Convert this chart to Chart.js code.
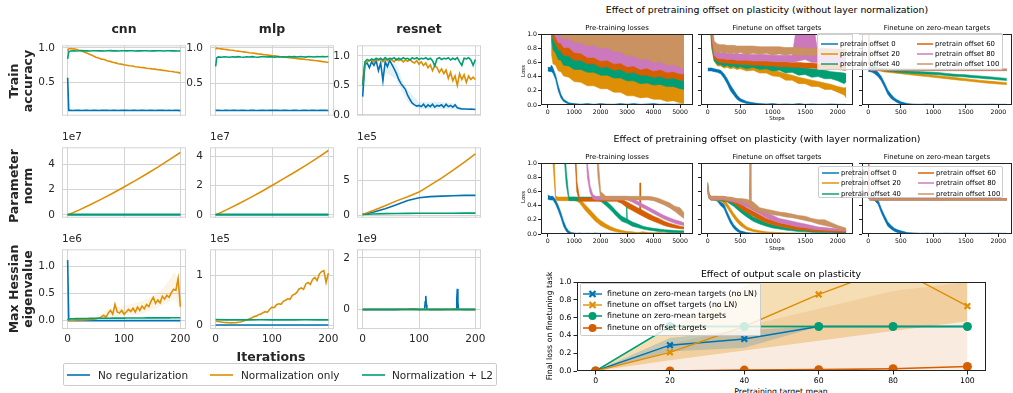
<!DOCTYPE html>
<html><head><meta charset="utf-8">
<script src="https://cdn.jsdelivr.net/npm/chart.js@4.4.1/dist/chart.umd.min.js"></script>
<style>
html,body{margin:0;padding:0;background:#fff}
body{position:relative;width:1013px;height:393px;overflow:hidden;font-family:"DejaVu Sans",sans-serif}
canvas{position:absolute}
.t{position:absolute;white-space:nowrap;transform:translate(-50%,-50%);line-height:1.15;text-align:center}
.lg{position:absolute;background:rgba(255,255,255,0.8);border:1px solid #ccc;border-radius:2px;box-sizing:border-box}
.lg .e{position:absolute;white-space:nowrap;line-height:1;transform:translateY(-50%)}
.lg svg{position:absolute}
</style></head><body>
<script>
const BLUE='#0173b2', ORANGE='#de8f05', GREEN='#029e73', RED='#d55e00', PINK='#cc78bc', TAN='#ca9161';

/* left grid: iterations */
const iters=[0,2,5,10,15,20,25,30,35,40,45,50,55,60,65,70,75,80,85,90,95,100,105,110,115,120,125,130,135,140,145,150,155,160,165,170,175,180,185,190,195,200];
const iters4=[0,4,8,12,16,20,24,28,32,36,40,44,48,52,56,60,64,68,72,76,80,84,88,92,96,100,104,108,112,116,120,124,128,132,136,140,144,148,152,156,160,164,168,172,176,180,184,188,192,196,200];
const iters20=[0,20,40,60,80,100,120,140,160,180,200];

const cnnAccBlue=[0.57,0.100,
 0.100,0.099,0.101,0.100,0.098,0.100,0.101,0.099,0.100,0.100,
 0.098,0.100,0.101,0.100,0.099,0.100,0.100,0.098,0.101,0.100,
 0.100,0.099,0.100,0.101,0.098,0.100,0.100,0.099,0.101,0.100,
 0.098,0.100,0.100,0.101,0.099,0.100,0.098,0.100,0.100,0.097];
const cnnAccOrange=[0.95,0.985,
 0.990,0.984,0.979,0.965,0.953,0.937,0.923,0.903,0.885,0.865,
 0.853,0.837,0.831,0.814,0.805,0.791,0.783,0.772,0.765,0.756,
 0.749,0.741,0.739,0.727,0.725,0.717,0.715,0.705,0.703,0.697,
 0.693,0.685,0.683,0.675,0.669,0.663,0.659,0.651,0.647,0.636];
const cnnAccGreen=[0.84,0.94,
 0.955,0.958,0.955,0.957,0.960,0.956,0.958,0.955,0.957,0.958,
 0.956,0.958,0.955,0.957,0.959,0.956,0.958,0.955,0.957,0.958,
 0.956,0.958,0.957,0.955,0.958,0.956,0.958,0.957,0.955,0.958,
 0.956,0.957,0.958,0.955,0.957,0.958,0.956,0.957,0.955,0.954];
const mlpAccBlue=[0.12,0.12,
 0.121,0.119,0.120,0.122,0.119,0.120,0.121,0.118,0.120,0.121,
 0.119,0.120,0.122,0.120,0.119,0.121,0.120,0.118,0.121,0.120,
 0.120,0.122,0.119,0.120,0.121,0.119,0.120,0.122,0.120,0.119,
 0.121,0.120,0.118,0.121,0.120,0.119,0.122,0.120,0.121,0.119];
const mlpAccOrange=[0.98,0.995,
 0.990,0.985,0.980,0.974,0.968,0.965,0.958,0.953,0.947,0.942,
 0.937,0.931,0.926,0.921,0.915,0.911,0.905,0.900,0.895,0.890,
 0.886,0.880,0.875,0.871,0.866,0.862,0.857,0.853,0.848,0.844,
 0.840,0.835,0.831,0.826,0.822,0.817,0.812,0.806,0.800,0.792];
const mlpAccGreen=[0.74,0.86,
 0.872,0.868,0.874,0.870,0.866,0.873,0.869,0.875,0.871,0.868,
 0.874,0.870,0.876,0.871,0.867,0.873,0.878,0.870,0.875,0.872,
 0.868,0.876,0.871,0.874,0.869,0.877,0.872,0.875,0.870,0.876,
 0.873,0.869,0.877,0.874,0.871,0.876,0.873,0.878,0.874,0.877];
const resAccBlue=[0.31,0.85,0.88,0.80,0.90,0.84,0.92,0.75,0.88,0.58,
 0.90,0.82,0.93,0.85,0.78,0.70,0.60,0.53,0.48,0.43,
 0.33,0.26,0.20,0.17,0.15,0.16,0.14,0.18,0.13,0.17,
 0.14,0.18,0.13,0.16,0.15,0.17,0.13,0.18,0.14,0.16,
 0.13,0.17,0.12,0.11,0.10,0.10,0.10,0.095,0.10,0.095,
 0.09];
const resAccOrange=[0.52,0.88,0.90,0.92,0.93,0.90,0.94,0.92,0.95,0.90,
 0.94,0.92,0.95,0.93,0.90,0.95,0.92,0.94,0.90,0.93,
 0.91,0.94,0.90,0.88,0.92,0.86,0.90,0.84,0.88,0.80,
 0.85,0.75,0.84,0.80,0.72,0.78,0.70,0.76,0.62,0.72,
 0.58,0.66,0.50,0.70,0.60,0.68,0.55,0.66,0.60,0.64,
 0.60];
const resAccGreen=[0.50,0.90,0.94,0.92,0.95,0.93,0.96,0.94,0.96,0.93,
 0.97,0.94,0.96,0.95,0.97,0.93,0.96,0.94,0.97,0.95,
 0.96,0.93,0.97,0.95,0.97,0.94,0.96,0.95,0.97,0.94,
 0.96,0.92,0.83,0.95,0.97,0.94,0.96,0.95,0.97,0.93,
 0.96,0.94,0.97,0.90,0.84,0.96,0.95,0.97,0.93,0.84,
 0.94];
const resAccBandX=[40,60,70,80,100,120,140,160,170,180,200];
const resAccBandLo=[0.72,0.60,0.40,0.22,0.10,0.10,0.10,0.09,0.08,0.08,0.08];
const resAccBandHi=[0.96,0.85,0.60,0.42,0.22,0.22,0.22,0.20,0.13,0.12,0.11];

const cnnNormBlue=[0.01,0.01,0.01,0.01,0.01,0.01,0.01,0.01,0.01,0.01,0.01];
const cnnNormGreen=[0.03,0.03,0.03,0.03,0.03,0.03,0.03,0.03,0.03,0.03,0.03];
const cnnNormOrange=[0,0.38,0.80,1.25,1.72,2.21,2.72,3.24,3.79,4.36,4.95];
const mlpNormBlue=[0.01,0.01,0.01,0.01,0.01,0.01,0.01,0.01,0.01,0.01,0.01];
const mlpNormGreen=[0.03,0.03,0.03,0.03,0.03,0.03,0.03,0.03,0.03,0.03,0.03];
const mlpNormOrange=[0,0.36,0.74,1.14,1.56,2.00,2.45,2.90,3.37,3.86,4.38];
const resNormBlue=[0.1,0.47,0.94,1.50,2.10,2.50,2.65,2.73,2.79,2.83,2.84];
const resNormOrange=[0.1,0.70,1.35,2.05,2.65,3.30,4.30,5.30,6.40,7.55,8.74];
const resNormGreen=[0.1,0.18,0.23,0.25,0.27,0.28,0.28,0.29,0.29,0.30,0.30];

const cnnHessBlue=[1.12,0,
 0,0,0,0,0,0,0,0,0,0, 0,0,0,0,0,0,0,0,0,0,
 0,0,0,0,0,0,0,0,0,0, 0,0,0,0,0,0,0,0,0,0];
const cnnHessGreen=[0.01,0.03,
 0.035,0.036,0.037,0.038,0.040,0.040,0.041,0.042,0.043,0.043,
 0.044,0.045,0.045,0.046,0.046,0.047,0.047,0.048,0.048,0.048,
 0.049,0.049,0.049,0.050,0.050,0.050,0.050,0.051,0.051,0.051,
 0.051,0.052,0.052,0.052,0.052,0.052,0.053,0.053,0.053,0.053];
const cnnHessOrange=[0.01,0.01,0.012,0.01,0.015,0.012,0.018,0.015,0.02,0.018,
 0.025,0.022,0.03,0.04,0.05,0.07,0.10,0.06,0.14,0.19,
 0.12,0.30,0.16,0.14,0.19,0.12,0.16,0.21,0.17,0.23,
 0.16,0.25,0.19,0.27,0.22,0.30,0.26,0.36,0.43,0.32,
 0.38,0.33,0.45,0.40,0.47,0.43,0.52,0.58,0.56,0.78,
 0.26];
const cnnHessBandX=[50,70,90,110,130,150,170,190,200];
const cnnHessBandLo=[0.02,0.05,0.08,0.10,0.12,0.20,0.30,0.40,0.20];
const cnnHessBandHi=[0.06,0.20,0.25,0.30,0.35,0.45,0.60,0.90,0.60];
const mlpHessBlue=[0,0,0,0,0,0,0,0,0,0,0];
const mlpHessGreen=[0.11,0.105,0.104,0.105,0.106,0.105,0.104,0.105,0.106,0.105,0.105];
const mlpHessOrange=[0.075,0.07,0.065,0.058,0.052,0.048,0.045,0.043,0.045,0.048,
 0.055,0.063,0.075,0.09,0.105,0.125,0.14,0.17,0.18,0.21,
 0.22,0.25,0.27,0.26,0.32,0.36,0.35,0.41,0.43,0.42,
 0.48,0.50,0.53,0.52,0.60,0.62,0.66,0.73,0.75,0.72,
 0.83,0.86,0.82,0.92,0.96,0.90,1.03,1.08,1.10,0.86,
 1.05];
const resHessX=[0,20,40,60,80,90,100,110,111,112,113,114,120,140,160,166,167,168,169,170,180,200];
const resHessBlue=[0.01,0.01,0.015,0.01,0.02,0.03,0.01,0.02,0.3,0.53,0.2,0.02,0.01,0.01,0.02,0.03,0.4,0.8,0.3,0.02,0.01,0.01];
const resHessOrange=[0,0.01,0.005,0.01,0.02,0.01,0.01,0.015,0.01,0.01,0.01];
const resHessGreen=[0,0,0,0,0,0,0,0,0,0,0];

/* right: pretraining / finetuning losses (noise band low/high edges) */
const xsPre=[0,100,150,200,300,400,500,600,800,1000,1250,1500,1750,2000,2250,2500,2750,3000,3250,3500,3750,4000,4250,4500,4750,5000,5150];
const preBlueLo=[0.48,0.47,0.47,0.45,0.36,0.20,0.10,0.05,0.01, 0.003,0,0,0,0,0,0,0,0, 0,0,0,0,0,0,0,0,0];
const preBlueHi=[0.53,0.53,0.56,0.52,0.42,0.27,0.15,0.08,0.03, 0.02,0.012,0.02,0.01,0.02,0.012,0.01,0.02,0.012, 0.02,0.01,0.015,0.02,0.01,0.015,0.01,0.015,0.01];
const preOrangeLo=[5,5,0.70,0.58,0.56,0.48,0.47,0.41,0.39, 0.33,0.32,0.27,0.27,0.23,0.23,0.18,0.18,0.13, 0.13,0.10,0.11,0.08,0.08,0.05,0.06,0.03,0.02];
const preOrangeHi=[9,9,1.30,1.00,0.93,0.88,0.84,0.80,0.74, 0.68,0.64,0.61,0.58,0.55,0.52,0.49,0.47,0.44, 0.42,0.40,0.38,0.36,0.34,0.32,0.30,0.30,0.28];
const preGreenLo=[5,5,0.90,0.78,0.73,0.64,0.63,0.56,0.55, 0.50,0.50,0.46,0.46,0.42,0.42,0.38,0.38,0.34, 0.34,0.30,0.31,0.28,0.29,0.26,0.26,0.23,0.22];
const preGreenHi=[9,9,1.30,1.05,0.95,0.88,0.84,0.80,0.76, 0.72,0.70,0.68,0.66,0.63,0.61,0.59,0.57,0.55, 0.52,0.50,0.48,0.46,0.44,0.42,0.40,0.38,0.37];
const preRedLo=[5,5,1.10,0.93,0.86,0.78,0.76,0.70,0.69, 0.63,0.63,0.58,0.58,0.53,0.54,0.49,0.50,0.45, 0.46,0.42,0.42,0.39,0.40,0.37,0.38,0.35,0.35];
const preRedHi=[9,9,1.50,1.20,1.10,1.02,0.98,0.95,0.92, 0.90,0.87,0.85,0.82,0.80,0.78,0.75,0.73,0.71, 0.69,0.67,0.65,0.63,0.61,0.60,0.58,0.56,0.55];
const prePinkLo=[5,5,1.30,1.03,0.96,0.88,0.87,0.81,0.81, 0.74,0.73,0.67,0.67,0.62,0.63,0.58,0.59,0.54, 0.55,0.50,0.52,0.48,0.50,0.46,0.47,0.44,0.44];
const prePinkHi=[9,9,1.80,1.50,1.30,1.20,1.15,1.10,1.08, 1.05,1.02,1.00,0.98,0.96,0.94,0.92,0.90,0.88, 0.86,0.84,0.82,0.80,0.78,0.76,0.74,0.72,0.70];
const preTanLo=[5,5,1.40,1.08,1.03,0.97,0.97,0.93,0.94, 0.88,0.88,0.83,0.84,0.80,0.81,0.75,0.75,0.69, 0.69,0.64,0.65,0.60,0.61,0.56,0.57,0.53,0.52];
const preTanHi=[9,9,9,9,9,9,9,9,9, 9,9,9,9,9,9,9,9,9, 9,9,9,9,9,9,9,9,9];

const xsFt=[0,30,60,100,150,200,250,300,350,400,450,500,600,700,800,900,1000,1100,1200,1300,1400,1500,1600,1700,1800,1900,2000,2100,2130];
const ftBlueLo=[0.48,0.48,0.48,0.47,0.46,0.44,0.38,0.30,0.20,0.14, 0.08,0.05,0.02,0.01,0,0,0,0,0,0, 0,0,0,0,0,0,0,0,0];
const ftBlueHi=[0.52,0.52,0.52,0.51,0.50,0.49,0.44,0.37,0.28,0.21, 0.14,0.09,0.05,0.03,0.02,0.015,0.02,0.01,0.015,0.01, 0.02,0.01,0.015,0.01,0.01,0.015,0.01,0.01,0.01];
const ftOrangeLo=[5,1.30,0.80,0.62,0.55,0.55,0.52,0.53,0.51,0.52, 0.50,0.51,0.48,0.49,0.45,0.45,0.41,0.40,0.35,0.35, 0.30,0.30,0.26,0.26,0.22,0.22,0.18,0.14,0.10];
const ftOrangeHi=[9,1.60,0.95,0.70,0.63,0.61,0.60,0.60,0.59,0.59, 0.58,0.58,0.57,0.56,0.54,0.52,0.50,0.47,0.44,0.42, 0.39,0.37,0.35,0.33,0.31,0.29,0.26,0.24,0.25];
const ftGreenLo=[5,1.40,0.85,0.62,0.57,0.57,0.54,0.56,0.53,0.55, 0.52,0.54,0.51,0.53,0.50,0.51,0.48,0.49,0.45,0.46, 0.42,0.43,0.39,0.40,0.37,0.37,0.34,0.30,0.33];
const ftGreenHi=[9,1.70,1.00,0.72,0.66,0.64,0.63,0.63,0.62,0.62, 0.62,0.61,0.61,0.60,0.60,0.59,0.58,0.57,0.56,0.55, 0.54,0.52,0.51,0.50,0.49,0.47,0.46,0.45,0.44];
const ftRedLo=[5,1.50,0.90,0.66,0.61,0.60,0.59,0.59,0.58,0.58, 0.58,0.57,0.57,0.56,0.56,0.55,0.55,0.54,0.54,0.53, 0.53,0.52,0.52,0.51,0.51,0.50,0.50,0.49,0.49];
const ftRedHi=[9,1.80,1.05,0.74,0.68,0.67,0.66,0.66,0.65,0.65, 0.65,0.64,0.64,0.63,0.63,0.62,0.62,0.61,0.61,0.60, 0.60,0.59,0.59,0.58,0.58,0.57,0.57,0.56,0.56];
const ftPinkLo=[5,1.60,1.00,0.70,0.66,0.65,0.65,0.64,0.64,0.64, 0.63,0.63,0.63,0.62,0.62,0.62,0.61,0.61,0.61,0.60, 0.62,0.64,0.60,0.60,0.59,0.59,0.58,0.58,0.58];
const ftPinkHi=[9,2.00,1.15,0.80,0.75,0.74,0.74,0.73,0.73,0.73, 0.72,0.72,0.72,0.71,0.71,0.71,0.70,0.70,0.70,0.70, 1.30,1.30,1.30,0.70,0.69,0.69,0.68,0.68,0.68];
const ftTanLo=[5,1.70,1.05,0.76,0.73,0.75,0.72,0.74,0.72,0.74, 0.72,0.74,0.71,0.73,0.71,0.73,0.70,0.72,0.70,0.72, 0.69,0.71,0.69,0.71,0.69,0.70,0.68,0.69,0.69];
const ftTanHi=[9,2.20,1.25,0.90,0.86,0.85,0.85,0.84,0.84,0.84, 0.83,0.83,0.83,0.83,0.82,0.82,0.82,0.82,0.81,0.81, 0.81,0.80,0.80,0.80,0.80,0.79,0.79,0.79,0.79];

const zmBlueLo=[0.47,0.47,0.46,0.44,0.40,0.34,0.25,0.15,0.09,0.06, 0.03,0.015,0,0,0,0,0,0,0,0, 0,0,0,0,0,0,0,0,0];
const zmBlueHi=[0.53,0.53,0.52,0.50,0.46,0.40,0.31,0.21,0.15,0.10, 0.07,0.045,0.02,0.012,0.01,0.015,0.01,0.01,0.012,0.01, 0.01,0.012,0.01,0.01,0.01,0.012,0.01,0.01,0.01];
const zmOrangeLo=[0.585,0.545,0.525,0.505,0.485,0.475,0.465,0.46,0.455,0.45, 0.445,0.44,0.43,0.42,0.41,0.40,0.39,0.38,0.37,0.36, 0.35,0.34,0.33,0.32,0.31,0.303,0.295,0.288,0.285];
const zmOrangeHi=[0.615,0.575,0.555,0.535,0.515,0.505,0.495,0.49,0.485,0.48, 0.475,0.47,0.46,0.45,0.44,0.43,0.42,0.41,0.40,0.39, 0.38,0.37,0.36,0.35,0.34,0.333,0.325,0.318,0.315];
const zmGreenLo=[0.585,0.545,0.525,0.505,0.495,0.485,0.48,0.475,0.47,0.465, 0.46,0.455,0.45,0.445,0.44,0.435,0.43,0.425,0.415,0.405, 0.40,0.395,0.385,0.38,0.37,0.365,0.355,0.347,0.345];
const zmGreenHi=[0.615,0.575,0.555,0.535,0.525,0.515,0.51,0.505,0.50,0.495, 0.49,0.485,0.48,0.475,0.47,0.465,0.46,0.455,0.445,0.435, 0.43,0.425,0.415,0.41,0.40,0.395,0.385,0.377,0.375];
const zmFlatLo=[0.70,0.49,0.485,0.485,0.485,0.485,0.485,0.485,0.485,0.485, 0.485,0.485,0.485,0.485,0.485,0.485,0.485,0.485,0.485,0.485, 0.485,0.485,0.485,0.485,0.485,0.485,0.485,0.485,0.485];
const zmFlatHi=[1.20,0.52,0.505,0.505,0.505,0.505,0.505,0.505,0.505,0.505, 0.505,0.505,0.505,0.505,0.505,0.505,0.505,0.505,0.505,0.505, 0.505,0.505,0.505,0.505,0.505,0.505,0.505,0.505,0.505];

const xsPreLn=[0,100,200,300,400,500,600,700,800,900,1000,1100,1200,1300,1400,1500,1600,1700,1800,1900,2000,2200,2400,2600,2800,3000,3200,3400,3600,3800,4000,4200,4400,4600,4800,5000,5150];
const lnBlueLo=[0.49,0.48,0.48,0.42,0.33,0.23,0.11,0.04,0.005,0, 0,0,0,0,0,0,0,0,0,0, 0,0,0,0,0,0,0,0,0,0, 0,0,0,0,0,0,0];
const lnBlueHi=[0.55,0.53,0.53,0.48,0.40,0.30,0.18,0.09,0.04,0.02, 0.015,0.01,0.015,0.01,0.01,0.012,0.01,0.01,0.015,0.01, 0.01,0.012,0.01,0.01,0.01,0.012,0.01,0.01,0.01,0.01, 0.012,0.01,0.01,0.01,0.01,0.01,0.01];
const lnOrangeLo=[5,5,1.0,0.48,0.47,0.47,0.47,0.47,0.47,0.47, 0.47,0.46,0.44,0.39,0.34,0.30,0.26,0.22,0.18,0.15, 0.12,0.08,0.05,0.03,0.02,0.01,0.005,0,0,0, 0,0,0,0,0,0,0];
const lnOrangeHi=[9,9,1.5,0.53,0.52,0.52,0.52,0.52,0.52,0.52, 0.52,0.51,0.50,0.46,0.42,0.38,0.34,0.30,0.26,0.22, 0.19,0.14,0.10,0.07,0.05,0.035,0.03,0.02,0.03,0.02, 0.015,0.02,0.015,0.02,0.015,0.02,0.015];
const lnGreenLo=[5,5,5,5,5,5,1.2,0.70,0.47,0.47, 0.47,0.47,0.47,0.47,0.47,0.47,0.47,0.47,0.47,0.47, 0.46,0.40,0.33,0.25,0.18,0.15,0.11,0.09,0.07,0.055, 0.045,0.035,0.03,0.025,0.02,0.02,0.02];
const lnGreenHi=[9,9,9,9,9,9,1.6,0.90,0.52,0.52, 0.52,0.52,0.52,0.52,0.52,0.52,0.52,0.52,0.52,0.52, 0.52,0.47,0.40,0.32,0.25,0.21,0.17,0.14,0.11,0.09, 0.08,0.07,0.06,0.055,0.05,0.045,0.045];
const lnGreenSpikeX=[2960,2986,3010];
const lnGreenSpikeY=[0.19,0.38,0.18];
const lnRedLo=[5,5,5,5,5,5,5,5,5,5, 1.3,0.60,0.46,0.46,0.46,0.46,0.46,0.46,0.46,0.46, 0.46,0.46,0.46,0.46,0.43,0.37,0.33,0.29,0.25,0.21, 0.18,0.15,0.12,0.10,0.085,0.075,0.07];
const lnRedHi=[9,9,9,9,9,9,9,9,9,9, 1.8,0.75,0.51,0.51,0.51,0.51,0.51,0.51,0.51,0.51, 0.51,0.51,0.51,0.51,0.49,0.45,0.41,0.37,0.33,0.29, 0.25,0.22,0.18,0.15,0.13,0.11,0.10];
const lnRedSpikeX=[3470,3490,3510];
const lnRedSpikeY=[0.34,0.72,0.33];
const lnPinkLo=[5,5,5,5,5,5,5,5,5,5, 5,5,5,5,1.5,0.80,0.58,0.50,0.48,0.48, 0.48,0.48,0.48,0.48,0.48,0.48,0.45,0.41,0.37,0.33, 0.29,0.25,0.21,0.18,0.15,0.13,0.12];
const lnPinkHi=[9,9,9,9,9,9,9,9,9,9, 9,9,9,9,2,1.0,0.68,0.56,0.53,0.53, 0.53,0.53,0.53,0.53,0.53,0.53,0.50,0.46,0.42,0.38, 0.34,0.30,0.26,0.23,0.20,0.18,0.16];
const lnTanLo=[5,5,5,5,5,5,5,5,5,5, 5,5,5,5,5,5,5,5,1.5,0.80, 0.50,0.48,0.48,0.48,0.48,0.48,0.48,0.48,0.48,0.48, 0.47,0.44,0.41,0.37,0.32,0.26,0.22];
const lnTanHi=[9,9,9,9,9,9,9,9,9,9, 9,9,9,9,9,9,9,9,2,1.1, 0.60,0.53,0.53,0.53,0.53,0.53,0.53,0.53,0.53,0.53, 0.52,0.50,0.47,0.44,0.39,0.37,0.30];

const xsFtLn=[0,20,50,100,150,200,250,300,350,400,450,500,600,700,800,900,1000,1100,1200,1300,1400,1500,1600,1700,1800,1900,2000,2100,2130];
const lnFtBlueLo=[0.58,0.50,0.48,0.48,0.46,0.40,0.36,0.25,0.15,0.08, 0.04,0.015,0,0,0,0,0,0,0,0, 0,0,0,0,0,0,0,0,0];
const lnFtBlueHi=[0.64,0.54,0.52,0.52,0.50,0.45,0.42,0.31,0.21,0.13, 0.08,0.045,0.02,0.012,0.01,0.01,0.01,0.01,0.01,0.01, 0.01,0.01,0.01,0.01,0.01,0.01,0.01,0.01,0.01];
const lnFtOrangeLo=[0.60,0.50,0.48,0.48,0.47,0.46,0.43,0.37,0.30,0.23, 0.17,0.12,0.06,0.035,0.02,0.01,0.008,0.005,0,0, 0,0,0,0,0,0,0,0,0];
const lnFtOrangeHi=[0.66,0.54,0.52,0.52,0.51,0.50,0.48,0.43,0.36,0.29, 0.23,0.18,0.10,0.065,0.045,0.03,0.025,0.02,0.015,0.012, 0.012,0.01,0.01,0.01,0.01,0.01,0.01,0.01,0.01];
const lnFtGreenLo=[0.66,0.52,0.48,0.48,0.48,0.47,0.46,0.45,0.42,0.39, 0.35,0.31,0.24,0.18,0.14,0.11,0.085,0.07,0.055,0.045, 0.035,0.03,0.025,0.02,0.02,0.02,0.015,0.015,0.015];
const lnFtGreenHi=[0.73,0.57,0.52,0.52,0.52,0.51,0.50,0.49,0.47,0.45, 0.42,0.38,0.31,0.24,0.20,0.16,0.13,0.11,0.09,0.075, 0.065,0.055,0.05,0.045,0.04,0.04,0.035,0.035,0.035];
const lnFtRedLo=[0.64,0.52,0.48,0.48,0.48,0.48,0.47,0.46,0.45,0.43, 0.40,0.36,0.30,0.25,0.20,0.16,0.13,0.11,0.09,0.07, 0.06,0.05,0.04,0.035,0.03,0.03,0.025,0.025,0.025];
const lnFtRedHi=[0.70,0.56,0.53,0.53,0.53,0.52,0.52,0.51,0.50,0.49, 0.47,0.43,0.37,0.32,0.27,0.22,0.19,0.16,0.14,0.12, 0.10,0.09,0.08,0.07,0.06,0.055,0.05,0.045,0.045];
const lnFtPinkLo=[0.64,0.52,0.48,0.48,0.48,0.48,0.48,0.47,0.46,0.45, 0.44,0.42,0.38,0.33,0.28,0.23,0.19,0.16,0.14,0.12, 0.10,0.09,0.07,0.06,0.055,0.05,0.045,0.04,0.04];
const lnFtPinkHi=[0.70,0.56,0.53,0.53,0.53,0.53,0.53,0.52,0.51,0.50, 0.49,0.47,0.44,0.39,0.35,0.30,0.26,0.22,0.20,0.18, 0.16,0.14,0.12,0.10,0.09,0.08,0.07,0.065,0.065];
const lnFtTanLo=[0.66,0.50,0.49,0.49,0.49,0.49,0.49,0.48,0.48,0.47, 0.46,0.45,0.43,0.35,0.31,0.29,0.27,0.26,0.24,0.23, 0.21,0.19,0.17,0.14,0.12,0.10,0.07,0.05,0.05];
const lnFtTanHi=[0.72,0.55,0.53,0.53,0.53,0.53,0.53,0.52,0.52,0.51, 0.50,0.50,0.49,0.45,0.37,0.35,0.33,0.31,0.30,0.28, 0.26,0.25,0.22,0.20,0.20,0.16,0.12,0.09,0.08];
const lnFtTanSpikeX=[640,652,664];
const lnFtTanSpikeY=[0.44,1.10,0.43];

const lnZmBlueLo=[0.50,0.50,0.49,0.47,0.42,0.30,0.20,0.11,0.07,0.04, 0.02,0.01,0,0,0,0,0,0,0,0, 0,0,0,0,0,0,0,0,0];
const lnZmBlueHi=[0.56,0.55,0.54,0.53,0.48,0.36,0.26,0.17,0.12,0.08, 0.06,0.045,0.02,0.015,0.01,0.012,0.01,0.01,0.012,0.01, 0.01,0.012,0.01,0.01,0.01,0.012,0.01,0.01,0.01];
const lnZmFlatLo=[0.60,0.48,0.478,0.478,0.478,0.478,0.478,0.478,0.478,0.478, 0.478,0.478,0.478,0.478,0.478,0.478,0.478,0.478,0.478,0.478, 0.478,0.478,0.478,0.478,0.478,0.478,0.478,0.478,0.478];
const lnZmFlatHi=[1.20,0.51,0.495,0.495,0.495,0.495,0.495,0.495,0.495,0.495, 0.495,0.495,0.495,0.495,0.495,0.495,0.495,0.495,0.495,0.495, 0.495,0.495,0.495,0.495,0.495,0.495,0.495,0.495,0.495];

/* bottom: output scale */
const scaleX=[0,20,40,60,80,100];
const lossZeroNoLn=[0,0.29,0.36,0.50,0.50,0.50];
const lossOffNoLn=[0,0.21,0.50,0.86,1.17,0.73];
const lossZeroLn=[0,0.50,0.50,0.50,0.50,0.50];
const lossOffLn=[0,0.00,0.01,0.015,0.025,0.05];
const bandOffNoLnLo=[0,0.12,0.23,0.34,0.45,0.56];
const bandOffNoLnHi=[0,0.48,0.95,1.40,1.60,1.20];
const bandOffLnLo=[0,0,0,0,0,0];
const bandOffLnHi=[0,0.30,0.50,0.70,0.90,1.00];
const bandZeroNoLnLo=[0,0.22,0.26,0.50,0.50,0.50];
const bandZeroNoLnHi=[0,0.37,0.46,0.50,0.50,0.50];
const bandZeroLnLo=[0,0.49,0.49,0.49,0.49,0.49];
const bandZeroLnHi=[0,0.51,0.51,0.51,0.51,0.51];

/* helpers */
Chart.defaults.font.family='"DejaVu Sans", sans-serif';

const frame={id:'frame', afterDatasetsDraw(ch,args,o){
  if(!o.color) return;
  const a=ch.chartArea, c=ch.ctx;
  c.save(); c.strokeStyle=o.color; c.lineWidth=1;
  c.strokeRect(a.left+0.5,a.top+0.5,a.right-a.left-1,a.bottom-a.top-1);
  c.restore();
}};
Chart.register(frame);

const pts=(xs,ys)=>ys.map((y,i)=>({x:xs[i],y}));
function rgba(hex,a){const n=parseInt(hex.slice(1),16);return `rgba(${n>>16},${(n>>8)&255},${n&255},${a})`;}

function buildDs(items){
  const ds=[]; let ord=1000;
  items.forEach(it=>{
    if(it.lo){
      const bc=it.bw?it.c:'rgba(0,0,0,0)';
      ds.push({data:pts(it.x,it.hi),borderColor:bc,borderWidth:it.bw||1,backgroundColor:rgba(it.c,it.a),pointRadius:0,fill:'+1',order:ord});
      ds.push({data:pts(it.x,it.lo),borderColor:bc,borderWidth:it.bw||1,pointRadius:0,fill:false,order:ord-1});
    } else {
      ds.push(Object.assign({data:pts(it.x,it.y),borderColor:it.c,backgroundColor:it.c,borderWidth:it.w||1.6,pointRadius:0,fill:false,order:ord},it.extra||{}));
    }
    ord-=2;
  });
  return ds;
}

function axis(o){
  return {type:'linear',position:o.pos,min:o.min,max:o.max,
    afterBuildTicks:s=>{s.ticks=o.ticks.map(v=>({value:v}));},
    afterFit:s=>{if(o.pos==='left') s.width=o.size; else s.height=o.size;},
    grid:o.grid,border:{display:false},
    ticks:{display:o.show!==false,autoSkip:false,maxRotation:0,minRotation:0,padding:o.pad,color:o.col,font:{size:o.fs},
      callback:v=>o.fmt?o.fmt(v):String(v)}};
}

function mkChart(l,t,w,h,p,datasets,xo,yo,frameCol){
  const cv=document.createElement('canvas');
  cv.width=w+p[1]+p[3]; cv.height=h+p[0]+p[2];
  cv.style.left=(l-p[3])+'px'; cv.style.top=(t-p[0])+'px';
  document.body.appendChild(cv);
  new Chart(cv,{type:'line',data:{datasets},options:{
    responsive:false,animation:false,events:[],
    layout:{padding:{top:p[0],right:p[1],bottom:0,left:0},autoPadding:false},
    plugins:{legend:{display:false},tooltip:{enabled:false},frame:{color:frameCol},filler:{drawTime:'beforeDatasetDraw'}},
    scales:{x:axis(Object.assign({pos:'bottom',size:p[2]},xo)),y:axis(Object.assign({pos:'left',size:p[3]},yo))}
  }});
}

const fmt1=v=>v.toFixed(1);
const GRID={display:true,color:'#d4d4d4',lineWidth:1,drawTicks:false,drawOnChartArea:true};
const MPL={display:true,drawOnChartArea:false,drawTicks:true,tickLength:3,tickWidth:1,tickColor:'#222'};

function leftPanel(l,t,yr,yt,yf,showX,items){
  mkChart(l,t,124,85,[8,10,showX?22:4,34],buildDs(items),
    {min:-10,max:210,ticks:[0,100,200],show:showX,pad:4,col:'#262626',fs:10.5,grid:GRID},
    {min:yr[0],max:yr[1],ticks:yt,fmt:yf,pad:7,col:'#262626',fs:10.5,grid:GRID},'#d4d4d4');
}

/* items: [lo,hi,colour] noise band or {x,y,c} thin line */
function lossPanel(l,t,w,xr,xt,showY,xs,items){
  const its=items.map(b=>Array.isArray(b)?{x:xs,lo:b[0],hi:b[1],c:b[2],a:1,bw:0.6}:Object.assign({w:0.8},b));
  mkChart(l,t,w,71,[6,6,12,showY?22:6],buildDs(its),
    {min:xr[0],max:xr[1],ticks:xt,pad:1,col:'#000',fs:6.2,grid:MPL},
    {min:0,max:1,ticks:[0,0.2,0.4,0.6,0.8,1.0],fmt:fmt1,show:showY,pad:1,col:'#000',fs:6.2,grid:MPL},'#222');
}

function label(text,x,y,css,rot){
  const d=document.createElement('div');
  d.className='t'; d.innerHTML=text;
  d.style.cssText+=`left:${x}px;top:${y}px;`+(css||'');
  if(rot) d.style.transform='translate(-50%,-50%) rotate(-90deg)';
  document.body.appendChild(d);
}

function legend(l,t,w,h,fs,items){
  const b=document.createElement('div');
  b.className='lg';
  b.style.cssText+=`left:${l}px;top:${t}px;width:${w}px;height:${h}px;font-size:${fs}px`;
  items.forEach(it=>{
    const mid=it.hw/2; let m='';
    if(it.m==='x') m=`<path d="M${mid-3},2 L${mid+3},8 M${mid+3},2 L${mid-3},8" stroke="${it.c}" stroke-width="2.2"/>`;
    if(it.m==='o') m=`<circle cx="${mid}" cy="5" r="4" fill="${it.c}"/>`;
    b.insertAdjacentHTML('beforeend',
      `<svg style="left:${it.hx}px;top:${it.y-5}px;opacity:${it.op||1}" width="${it.hw}" height="10"><line x1="0" y1="5" x2="${it.hw}" y2="5" stroke="${it.c}" stroke-width="${it.lw}"/>${m}</svg>`+
      `<div class="e" style="left:${it.tx}px;top:${it.y}px;color:${it.col||'#000'}">${it.text}</div>`);
  });
  document.body.appendChild(b);
}

/* left 3x3 grid */
const COLS=[62,210,357], ROWS=[40,142,244];
leftPanel(COLS[0],ROWS[0],[0.024,1.036],[0.5,1.0],fmt1,false,[
  {x:iters,y:cnnAccBlue,c:BLUE},{x:iters,y:cnnAccOrange,c:ORANGE},{x:iters,y:cnnAccGreen,c:GREEN}]);
leftPanel(COLS[1],ROWS[0],[0.045,1.035],[0.5,1.0],fmt1,false,[
  {x:iters,y:mlpAccBlue,c:BLUE},{x:iters,y:mlpAccOrange,c:ORANGE},{x:iters,y:mlpAccGreen,c:GREEN}]);
leftPanel(COLS[2],ROWS[0],[-0.014,1.18],[0,0.5,1.0],fmt1,false,[
  {x:resAccBandX,lo:resAccBandLo,hi:resAccBandHi,c:BLUE,a:0.1},
  {x:iters4,y:resAccBlue,c:BLUE},{x:iters4,y:resAccOrange,c:ORANGE},{x:iters4,y:resAccGreen,c:GREEN}]);

leftPanel(COLS[0],ROWS[1],[-0.22,5.36],[0,2,4],null,false,[
  {x:iters20,y:cnnNormBlue,c:BLUE},{x:iters20,y:cnnNormOrange,c:ORANGE},{x:iters20,y:cnnNormGreen,c:GREEN,w:2}]);
leftPanel(COLS[1],ROWS[1],[-0.19,4.6],[0,2,4],null,false,[
  {x:iters20,y:mlpNormBlue,c:BLUE},{x:iters20,y:mlpNormOrange,c:ORANGE},{x:iters20,y:mlpNormGreen,c:GREEN,w:2}]);
leftPanel(COLS[2],ROWS[1],[-0.35,9.69],[0,5],null,false,[
  {x:iters20,y:resNormBlue,c:BLUE},{x:iters20,y:resNormOrange,c:ORANGE},{x:iters20,y:resNormGreen,c:GREEN}]);

leftPanel(COLS[0],ROWS[2],[-0.154,1.32],[0,0.5,1.0],fmt1,true,[
  {x:cnnHessBandX,lo:cnnHessBandLo,hi:cnnHessBandHi,c:ORANGE,a:0.1},
  {x:iters,y:cnnHessBlue,c:BLUE},{x:iters4,y:cnnHessOrange,c:ORANGE},{x:iters,y:cnnHessGreen,c:GREEN}]);
leftPanel(COLS[1],ROWS[2],[-0.08,1.53],[0,1],null,true,[
  {x:iters20,y:mlpHessBlue,c:BLUE},{x:iters4,y:mlpHessOrange,c:ORANGE},{x:iters20,y:mlpHessGreen,c:GREEN}]);
leftPanel(COLS[2],ROWS[2],[-0.75,2.33],[0,2],null,true,[
  {x:resHessX,y:resHessBlue,c:BLUE},{x:iters20,y:resHessOrange,c:ORANGE},{x:iters20,y:resHessGreen,c:GREEN}]);

/* right: loss panels */
const tPre=[0,1000,2000,3000,4000,5000], tFt=[0,500,1000,1500,2000];
lossPanel(541,34,152,[-253,5491],tPre,true,xsPre,[
  [preBlueLo,preBlueHi,BLUE],[preOrangeLo,preOrangeHi,ORANGE],[preGreenLo,preGreenHi,GREEN],
  [preRedLo,preRedHi,RED],[prePinkLo,prePinkHi,PINK],[preTanLo,preTanHi,TAN]]);
lossPanel(701,34,152,[-103,2235],tFt,false,xsFt,[
  [ftBlueLo,ftBlueHi,BLUE],[ftOrangeLo,ftOrangeHi,ORANGE],[ftGreenLo,ftGreenHi,GREEN],
  [ftRedLo,ftRedHi,RED],[ftPinkLo,ftPinkHi,PINK],[ftTanLo,ftTanHi,TAN]]);
lossPanel(862,34,150,[-97,2210],tFt,false,xsFt,[
  [zmBlueLo,zmBlueHi,BLUE],[zmOrangeLo,zmOrangeHi,ORANGE],[zmGreenLo,zmGreenHi,GREEN],
  [zmFlatLo,zmFlatHi,RED],[zmFlatLo,zmFlatHi,PINK],[zmFlatLo,zmFlatHi,TAN]]);

lossPanel(541,163,152,[-253,5491],tPre,true,xsPreLn,[
  [lnBlueLo,lnBlueHi,BLUE],[lnOrangeLo,lnOrangeHi,ORANGE],[lnGreenLo,lnGreenHi,GREEN],
  [lnRedLo,lnRedHi,RED],{x:lnGreenSpikeX,y:lnGreenSpikeY,c:GREEN},{x:lnRedSpikeX,y:lnRedSpikeY,c:RED},
  [lnPinkLo,lnPinkHi,PINK],[lnTanLo,lnTanHi,TAN]]);
lossPanel(701,163,152,[-103,2235],tFt,false,xsFtLn,[
  [lnFtBlueLo,lnFtBlueHi,BLUE],[lnFtOrangeLo,lnFtOrangeHi,ORANGE],[lnFtGreenLo,lnFtGreenHi,GREEN],
  [lnFtRedLo,lnFtRedHi,RED],[lnFtPinkLo,lnFtPinkHi,PINK],[lnFtTanLo,lnFtTanHi,TAN],
  {x:lnFtTanSpikeX,y:lnFtTanSpikeY,c:TAN,w:1}]);
lossPanel(862,163,150,[-97,2210],tFt,false,xsFtLn,[
  [lnZmBlueLo,lnZmBlueHi,BLUE],[lnZmFlatLo,lnZmFlatHi,ORANGE],[lnZmFlatLo,lnZmFlatHi,GREEN],
  [lnZmFlatLo,lnZmFlatHi,RED],[lnZmFlatLo,lnZmFlatHi,PINK],[lnZmFlatLo,lnZmFlatHi,TAN]]);

/* bottom: output scale */
const MPL35=Object.assign({},MPL,{tickLength:3.5});
const xMark={pointStyle:'crossRot',pointRadius:4,pointBorderWidth:2.2,borderWidth:1.4};
const oMark={pointStyle:'circle',pointRadius:4.5,pointBorderWidth:0,borderWidth:1.6};
mkChart(577,282,409,89,[8,8,14,30],buildDs([
  {x:scaleX,lo:bandOffLnLo,hi:bandOffLnHi,c:RED,a:0.12},
  {x:scaleX,lo:bandOffNoLnLo,hi:bandOffNoLnHi,c:ORANGE,a:0.3},
  {x:scaleX,lo:bandZeroNoLnLo,hi:bandZeroNoLnHi,c:BLUE,a:0.2},
  {x:scaleX,lo:bandZeroLnLo,hi:bandZeroLnHi,c:GREEN,a:0.4},
  {x:scaleX,y:lossZeroNoLn,c:BLUE,extra:Object.assign({pointBorderColor:BLUE},xMark)},
  {x:scaleX,y:lossOffNoLn,c:ORANGE,extra:Object.assign({pointBorderColor:ORANGE},xMark)},
  {x:scaleX,y:lossZeroLn,c:GREEN,extra:Object.assign({pointBackgroundColor:GREEN},oMark)},
  {x:scaleX,y:lossOffLn,c:RED,extra:Object.assign({pointBackgroundColor:RED},oMark)}]),
  {min:-5,max:105,ticks:[0,20,40,60,80,100],pad:1.5,col:'#000',fs:7.7,grid:MPL35},
  {min:0,max:1,ticks:[0,0.2,0.4,0.6,0.8,1.0],fmt:fmt1,pad:2,col:'#000',fs:7.7,grid:MPL35},'#222');

/* left texts */
const B='font-weight:bold;font-size:12.5px;color:#262626;';
label('cnn',124,29,B); label('mlp',272,29,B); label('resnet',419,29,B);
label('Train<br>accuracy',21,81,B,true);
label('Parameter<br>norm',21,186,B,true);
label('Max Hessian<br>eigenvalue',21,289,B,true);
label('Iterations',271,357,B);
const OFF='font-size:10.5px;color:#262626;transform:translate(0,-50%);';
label('1e7',62,136,OFF); label('1e7',210,136,OFF); label('1e5',357,136,OFF);
label('1e6',62,238,OFF); label('1e5',210,238,OFF); label('1e9',357,238,OFF);
legend(63,363,434,23,10.5,[
  {hx:3,hw:23,y:10.5,c:BLUE,lw:1.6,tx:34,text:'No regularization',col:'#262626'},
  {hx:146,hw:23,y:10.5,c:ORANGE,lw:1.6,tx:177,text:'Normalization only',col:'#262626'},
  {hx:298,hw:23,y:10.5,c:GREEN,lw:1.6,tx:328,text:'Normalization + L2',col:'#262626'}]);

/* right texts */
const T8='font-size:9.4px;color:#000;', T6='font-size:6.9px;color:#000;', T55='font-size:5.5px;color:#000;';
label('Effect of pretraining offset on plasticity (without layer normalization)',767,10,T8);
label('Pre-training losses',617,28.7,T6); label('Finetune on offset targets',777,28.7,T6); label('Finetune on zero-mean targets',937,28.7,T6);
label('Loss',523,71,T55,true); label('Steps',777,118,T55);
label('Effect of pretraining offset on plasticity (with layer normalization)',767,139,T8);
label('Pre-training losses',617,157.7,T6); label('Finetune on offset targets',777,157.7,T6); label('Finetune on zero-mean targets',937,157.7,T6);
label('Loss',523,197,T55,true); label('Steps',777,248,T55);
label('Effect of output scale on plasticity',781,274,T8);
label('Final loss on finetuning task',550,326,'font-size:7.8px;color:#000;',true);
label('Pretraining target mean',781,392,'font-size:7.8px;color:#000;');

const offItems=(ys)=>[
  {hx:3,hw:17,y:ys[0],c:BLUE,lw:1.8,op:0.8,tx:22,text:'pretrain offset 0'},
  {hx:3,hw:17,y:ys[1],c:ORANGE,lw:1.8,op:0.8,tx:22,text:'pretrain offset 20'},
  {hx:3,hw:17,y:ys[2],c:GREEN,lw:1.8,op:0.8,tx:22,text:'pretrain offset 40'},
  {hx:99,hw:16,y:ys[0],c:RED,lw:1.8,op:0.8,tx:117,text:'pretrain offset 60'},
  {hx:99,hw:16,y:ys[1],c:PINK,lw:1.8,op:0.8,tx:117,text:'pretrain offset 80'},
  {hx:99,hw:16,y:ys[2],c:TAN,lw:1.8,op:0.8,tx:117,text:'pretrain offset 100'}];
legend(817,33,186,37,6.9,offItems([9.5,19.5,29.5]));
legend(818,166,185,32,6.9,offItems([5.5,16,27]));
legend(580,283,181,53,7.8,[
  {hx:2,hw:19,y:9.5,c:BLUE,lw:1.4,m:'x',tx:26,text:'finetune on zero-mean targets (no LN)'},
  {hx:2,hw:19,y:20.5,c:ORANGE,lw:1.4,m:'x',tx:26,text:'finetune on offset targets (no LN)'},
  {hx:2,hw:19,y:32,c:GREEN,lw:1.6,m:'o',tx:26,text:'finetune on zero-mean targets'},
  {hx:2,hw:19,y:43.5,c:RED,lw:1.6,m:'o',tx:26,text:'finetune on offset targets'}]);
</script>
</body></html>
